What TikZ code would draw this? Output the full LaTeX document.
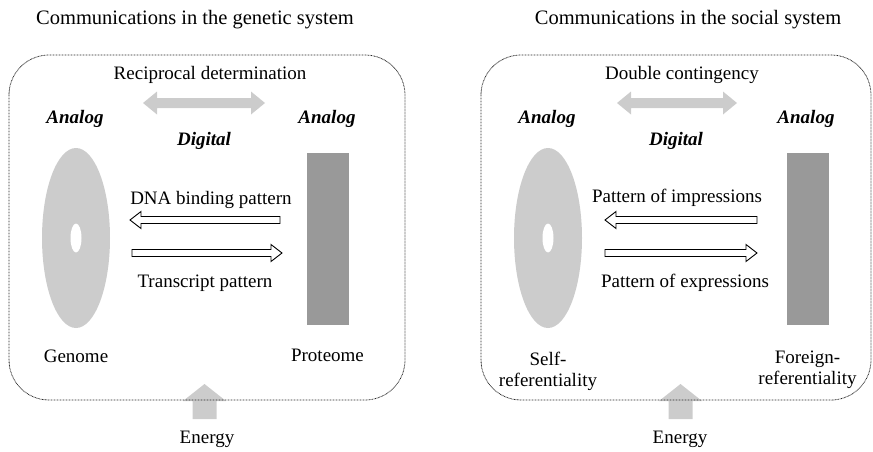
\documentclass[tikz,border=0pt]{standalone}
\usepackage{fontspec}
\setmainfont{Liberation Serif}
\usepackage{tikz}
\usetikzlibrary{shapes.geometric,positioning}

\begin{document}
\begin{tikzpicture}[
    x=1pt, y=-1pt,
    title/.style={font=\fontsize{20.5}{24}\selectfont, inner sep=0pt, anchor=base},
    txt/.style={font=\fontsize{19}{21}\selectfont, inner sep=0pt, align=center},
    kind/.style={font=\fontsize{19}{21}\selectfont\bfseries\itshape, inner sep=0pt, anchor=base},
    frame/.style={draw=black!85, line width=0.8pt, dash pattern=on 0.8pt off 0.7pt, rounded corners=40pt},
    cell/.style={ellipse, fill=black!20, minimum width=68pt, minimum height=180pt, inner sep=0pt},
    hole/.style={ellipse, fill=white, minimum width=11pt, minimum height=29pt, inner sep=0pt},
    bar/.style={rectangle, fill=black!40, minimum width=42pt, minimum height=172pt, inner sep=0pt},
    flow/.style={draw=black, fill=white, line width=0.9pt},
    mutual/.style={fill=black!20}
]
\useasboundingbox (0,0) rectangle (873,452);

% genetic system
\node[title] (gentitle) at (195,25) {Communications in the genetic system};
\fill[mutual] (183,401) -- (204.5,384) -- (226,401) -- (216.5,401) -- (216.5,419)
    -- (192.5,419) -- (192.5,401) -- cycle;
\draw[frame] (9,55) rectangle (405,400);
\node[txt, anchor=base] (recip) at (210,80) {Reciprocal determination};
\fill[mutual] (143,103) -- (157,91.5) -- (157,98) -- (251,98) -- (251,91.5) -- (265,103)
    -- (251,114.5) -- (251,108) -- (157,108) -- (157,114.5) -- cycle;
\node[kind] (genanL) at (75,123) {Analog};
\node[kind] (gendig) at (204,145) {Digital};
\node[kind] (genanR) at (327,123) {Analog};

\node[cell] (genome) at (76,238) {};
\node[hole] at (genome) {};
\node[bar] (proteome) at (327.5,239) {};
\node[txt, below=22pt of genome] (genomelbl) {Genome};
\node[txt, below=24pt of proteome] (proteomelbl) {Proteome};

\node[txt, anchor=base] (dnalbl) at (211,204) {DNA binding pattern};
\draw[flow] (130,220) -- (141,211.5) -- (141,216.5) -- (280,216.5) -- (280,223.5)
    -- (141,223.5) -- (141,228.5) -- cycle;
\draw[flow] (282,253) -- (271,244.5) -- (271,249.5) -- (132,249.5) -- (132,256.5)
    -- (271,256.5) -- (271,261.5) -- cycle;
\node[txt, anchor=base] (translbl) at (205,287) {Transcript pattern};
\node[txt, anchor=base] (genenergy) at (207,443) {Energy};

% social system
\node[title] (soctitle) at (688,25) {Communications in the social system};
\fill[mutual] (659,401) -- (680.5,384) -- (702,401) -- (692.5,401) -- (692.5,419)
    -- (668.5,419) -- (668.5,401) -- cycle;
\draw[frame] (481,55) rectangle (871,400);
\node[txt, anchor=base] (conting) at (682,80) {Double contingency};
\fill[mutual] (617,103) -- (631,91.5) -- (631,98) -- (723,98) -- (723,91.5) -- (737,103)
    -- (723,114.5) -- (723,108) -- (631,108) -- (631,114.5) -- cycle;
\node[kind] (socanL) at (547,123) {Analog};
\node[kind] (socdig) at (676,145) {Digital};
\node[kind] (socanR) at (806,123) {Analog};

\node[cell] (self) at (548,238) {};
\node[hole] at (self) {};
\node[bar] (foreign) at (807.5,239) {};
\node[txt, below=24pt of self] (selflbl) {Self-\\referentiality};
\node[txt, below=26pt of foreign] (foreignlbl) {Foreign-\\referentiality};

\node[txt, anchor=base] (impress) at (677,202) {Pattern of impressions};
\draw[flow] (605,220) -- (616,211.5) -- (616,216.5) -- (757,216.5) -- (757,223.5)
    -- (616,223.5) -- (616,228.5) -- cycle;
\draw[flow] (757,253) -- (746,244.5) -- (746,249.5) -- (605,249.5) -- (605,256.5)
    -- (746,256.5) -- (746,261.5) -- cycle;
\node[txt, anchor=base] (express) at (685,287) {Pattern of expressions};
\node[txt, anchor=base] (socenergy) at (680,443) {Energy};
\end{tikzpicture}
\end{document}
